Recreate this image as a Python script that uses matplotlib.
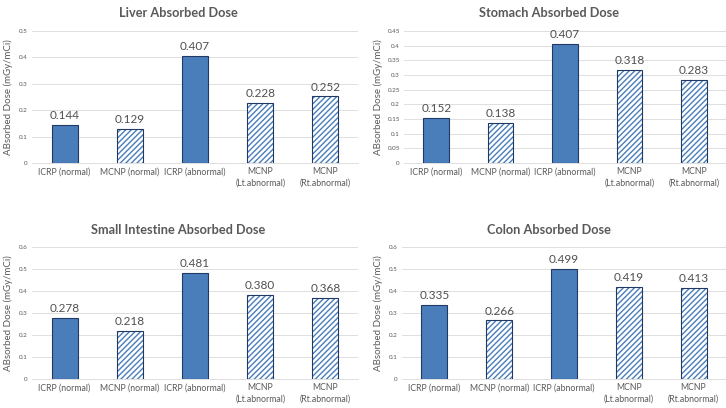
import numpy as np
import matplotlib as mpl
from matplotlib import pyplot as plt

mpl.rcParams['font.family'] = ['Lato', 'DejaVu Sans']
mpl.rcParams['hatch.linewidth'] = 1.0

categories = ['ICRP (normal)', 'MCNP (normal)', 'ICRP (abnormal)',
              'MCNP\n(Lt.abnormal)', 'MCNP\n(Rt.abnormal)']
hatched = [False, True, False, True, True]

titles = ['Liver Absorbed Dose', 'Stomach Absorbed Dose',
          'Small Intestine Absorbed Dose', 'Colon Absorbed Dose']
liver = [0.144, 0.129, 0.407, 0.228, 0.252]
stomach = [0.152, 0.138, 0.407, 0.318, 0.283]
small_intestine = [0.278, 0.218, 0.481, 0.380, 0.368]
colon = [0.335, 0.266, 0.499, 0.419, 0.413]
series = [liver, stomach, small_intestine, colon]

ymax = [0.5, 0.45, 0.6, 0.6]
ystep = [0.1, 0.05, 0.1, 0.1]
ylabel = 'ABsorbed Dose (mGy/mCi)'

W, H = 726, 408
fig = plt.figure(figsize=(W / 100, H / 100), dpi=100)

# axes boxes in pixels: left, top, right, bottom
boxes = [(32, 31, 358, 163), (404, 31, 726, 163),
         (32, 247, 358, 379), (402, 247, 726, 379)]
title_pos = [(178, 13), (549, 13), (178, 230), (549, 230)]
ylab_x = [8, 378, 8, 378]

blue = '#4a7ebb'
edge = '#203864'
grey = '#595959'

for i in range(4):
    l, t, r, b = boxes[i]
    ax = fig.add_axes([l / W, 1 - b / H, (r - l) / W, (b - t) / H])
    x = np.arange(len(categories))
    vals = series[i]
    for j in range(len(categories)):
        if hatched[j]:
            # hatch in light blue, outline drawn separately in dark blue
            ax.bar(x[j], vals[j], width=0.4, facecolor='white', edgecolor=blue,
                   linewidth=0, hatch='//////', zorder=3)
            ax.bar(x[j], vals[j], width=0.4, facecolor='none', edgecolor=edge,
                   linewidth=0.8, zorder=4)
        else:
            ax.bar(x[j], vals[j], width=0.4, facecolor=blue, edgecolor=edge,
                   linewidth=0.8, zorder=3)
        ax.text(x[j], vals[j] + ymax[i] * 0.03, '%.3f' % vals[j], ha='center',
                va='bottom', fontsize=8.5, color='#505050')
    ax.set_xlim(-0.5, len(categories) - 0.5)
    ax.set_ylim(0, ymax[i])
    ticks = np.round(np.arange(0, ymax[i] + 1e-9, ystep[i]), 2)
    ax.set_yticks(ticks)
    ax.set_yticklabels(['%g' % v for v in ticks], fontsize=4.5, color=grey)
    ax.set_xticks(x)
    ax.set_xticklabels(categories, fontsize=6.3, color=grey, linespacing=1.3)
    ax.tick_params(length=0, pad=3)
    ax.grid(axis='y', color='#d9d9d9', linewidth=0.6, zorder=0)
    for s in ['top', 'right', 'left']:
        ax.spines[s].set_visible(False)
    ax.spines['bottom'].set_color('#d9d9d9')
    ax.spines['bottom'].set_linewidth(0.6)

    tx, ty = title_pos[i]
    fig.text(tx / W, 1 - ty / H, titles[i], ha='center', va='center',
             fontsize=9.2, fontweight='bold', color=grey)
    fig.text(ylab_x[i] / W, 1 - ((t + b) / 2) / H, ylabel, rotation=90,
             ha='center', va='center', fontsize=7, color=grey)

fig.savefig('out.png', dpi=100, facecolor='white')
